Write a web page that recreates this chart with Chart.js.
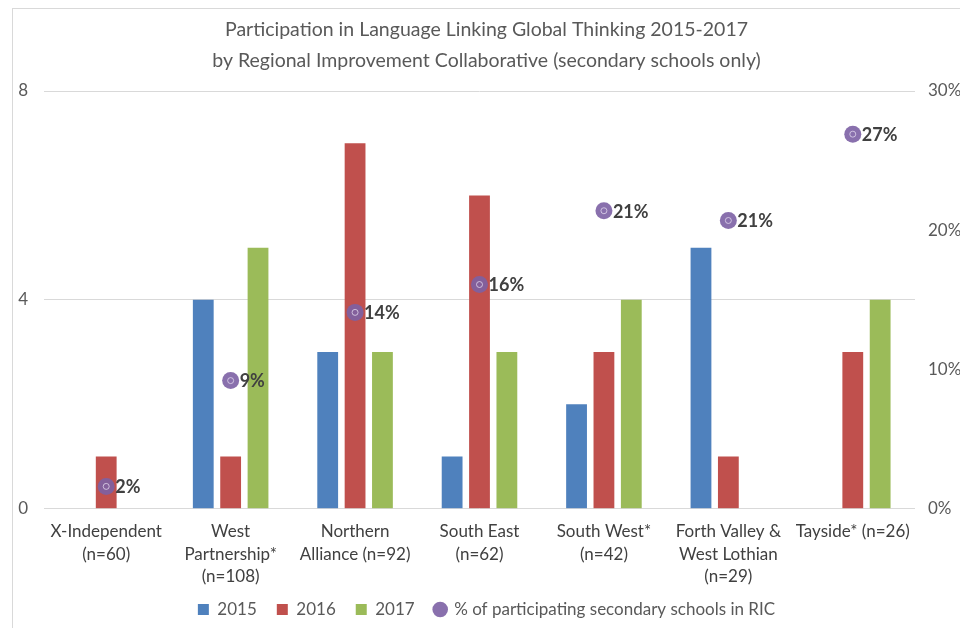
<!DOCTYPE html>
<html>
<head>
<meta charset="utf-8">
<script src="https://cdn.jsdelivr.net/npm/chart.js@4"></script>
<style>
  html, body { margin: 0; padding: 0; background: #ffffff; }
  body { width: 960px; height: 628px; position: relative; overflow: hidden; }
  #frame { position: absolute; left: 12px; top: 8px; width: 948px; height: 620px;
           border-left: 1px solid #d9d9d9; border-top: 1px solid #d9d9d9; box-sizing: border-box; }
  #wrap { position: absolute; left: 0; top: 0; width: 947px; height: 619px; }
</style>
</head>
<body>
<div id="frame"><div id="wrap"><canvas id="c"></canvas></div></div>
<script>
const categories = [
  ["X-Independent", "(n=60)"],
  ["West", "Partnership*", "(n=108)"],
  ["Northern", "Alliance (n=92)"],
  ["South East", "(n=62)"],
  ["South West*", "(n=42)"],
  ["Forth Valley &", "West Lothian", "(n=29)"],
  ["Tayside* (n=26)"]
];
const values2015 = [0, 4, 3, 1, 2, 5, 0];
const values2016 = [1, 1, 7, 6, 3, 1, 3];
const values2017 = [0, 5, 3, 3, 4, 0, 4];
const pctParticipating = [1.6, 9.2, 14.1, 16.1, 21.4, 20.7, 26.9];
const leftTicks = [0, 4, 8];
const rightTicks = [0, 10, 20, 30];

const FONT = "Lato, 'Liberation Sans', sans-serif";

const pointLabels = {
  id: 'pointLabels',
  afterDatasetsDraw(chart) {
    const ctx = chart.ctx;
    const meta = chart.getDatasetMeta(3);
    ctx.save();
    meta.data.forEach((pt, i) => {
      ctx.beginPath();
      ctx.arc(pt.x, pt.y, 3, 0, Math.PI * 2);
      ctx.strokeStyle = 'rgba(230,220,240,0.75)';
      ctx.lineWidth = 1;
      ctx.stroke();
      ctx.fillStyle = '#404040';
      ctx.font = "bold 18px " + FONT;
      ctx.textAlign = 'left';
      ctx.textBaseline = 'middle';
      ctx.fillText(Math.round(pctParticipating[i]) + '%', pt.x + 9, pt.y + 1);
    });
    ctx.restore();
  }
};

new Chart(document.getElementById('c'), {
  type: 'bar',
  data: {
    labels: categories,
    datasets: [
      { label: '2015', data: values2015, backgroundColor: '#4F81BD', yAxisID: 'y', order: 1,
        barPercentage: 0.76, categoryPercentage: 0.66 },
      { label: '2016', data: values2016, backgroundColor: '#C0504D', yAxisID: 'y', order: 1,
        barPercentage: 0.76, categoryPercentage: 0.66 },
      { label: '2017', data: values2017, backgroundColor: '#9BBB59', yAxisID: 'y', order: 1,
        barPercentage: 0.76, categoryPercentage: 0.66 },
      { type: 'line', label: '% of participating secondary schools in RIC', data: pctParticipating,
        yAxisID: 'y1', showLine: false, order: 0,
        pointRadius: 8.5, pointHoverRadius: 8.5, pointBorderWidth: 0,
        backgroundColor: 'rgba(124,96,164,0.9)', borderColor: 'rgba(124,96,164,0.9)' }
    ]
  },
  options: {
    responsive: true,
    maintainAspectRatio: false,
    animation: false,
    events: [],
    layout: { padding: { left: 0, right: 0, top: 0, bottom: 0 } },
    plugins: {
      tooltip: { enabled: false },
      title: {
        display: true,
        text: ['Participation in Language Linking Global Thinking 2015-2017',
               'by Regional Improvement Collaborative (secondary schools only)'],
        color: '#595959',
        font: { family: FONT, size: 19.5, weight: 'normal', lineHeight: 1.59 },
        padding: { top: 5, bottom: 15 }
      },
      legend: {
        position: 'bottom',
        labels: {
          color: '#595959',
          font: { family: FONT, size: 17 },
          usePointStyle: true,
          boxWidth: 11,
          boxHeight: 11,
          padding: 20,
          generateLabels(chart) {
            const items = Chart.defaults.plugins.legend.labels.generateLabels(chart);
            items.forEach(it => {
              it.pointStyle = it.datasetIndex === 3 ? 'circle' : 'rect';
              it.lineWidth = 0;
            });
            items.sort((a, b) => a.datasetIndex - b.datasetIndex);
            return items;
          }
        }
      }
    },
    scales: {
      x: {
        grid: { display: false, drawTicks: false },
        border: { display: false },
        afterFit(scale) {
          scale.height = scale.height - 19;
          scale._computeLabelArea = () => undefined;
        },
        ticks: { color: '#404040', font: { family: FONT, size: 17, lineHeight: 1.32 },
                 padding: 12, maxRotation: 0, autoSkip: false }
      },
      y: {
        position: 'left',
        min: 0, max: 8,
        afterBuildTicks(scale) { scale.ticks = leftTicks.map(v => ({ value: v })); },
        afterFit(scale) { scale.width = 31; },
        grid: { color: '#d9d9d9', lineWidth: 1, drawTicks: false },
        border: { display: false },
        ticks: { color: '#595959', font: { family: FONT, size: 17 }, padding: 16 }
      },
      y1: {
        position: 'right',
        min: 0, max: 30,
        afterBuildTicks(scale) { scale.ticks = rightTicks.map(v => ({ value: v })); },
        afterFit(scale) { scale.width = 45; },
        grid: { display: false, drawTicks: false },
        border: { display: false },
        ticks: { color: '#595959', font: { family: FONT, size: 17 }, padding: 13,
                 callback: v => v + '%' }
      }
    }
  },
  plugins: [pointLabels]
});
</script>
</body>
</html>
